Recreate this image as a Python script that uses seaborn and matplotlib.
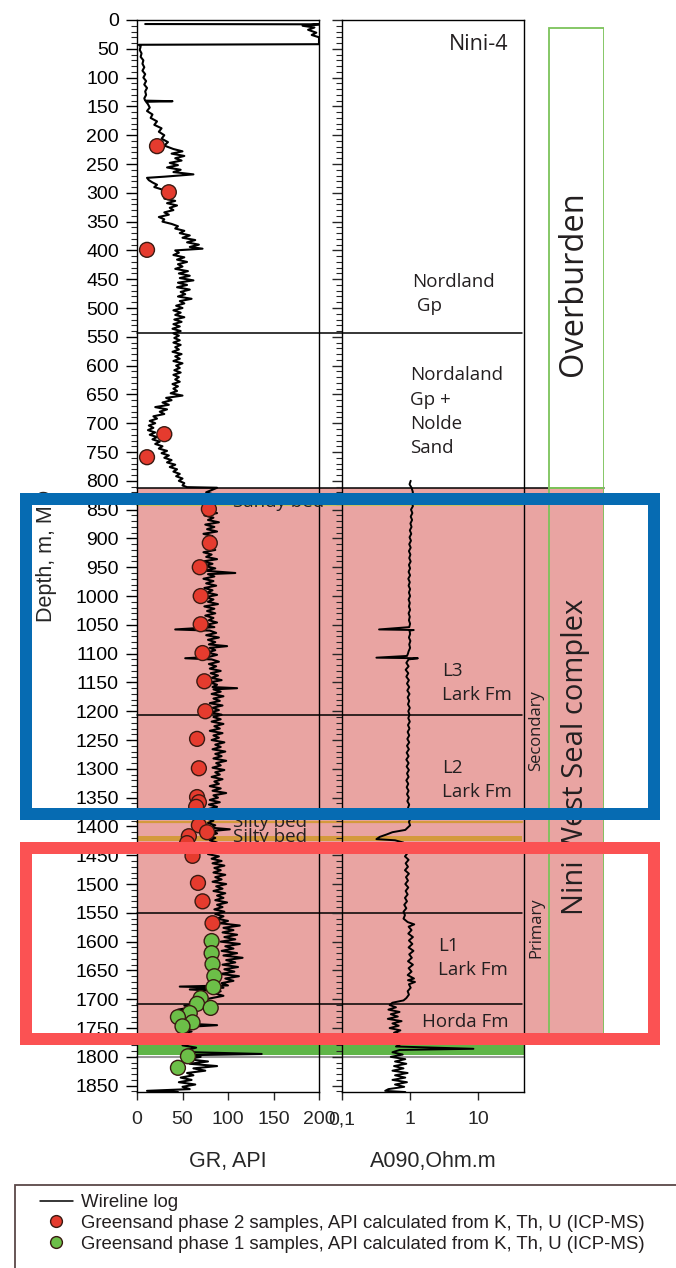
import numpy as np
import pandas as pd
import seaborn as sns
import matplotlib
matplotlib.use("Agg")
import matplotlib.pyplot as plt
import matplotlib.transforms as mtransforms
from matplotlib.patches import Rectangle
from matplotlib.lines import Line2D

# ---------------- DATA ----------------
# Gamma-ray wireline log (depth m MD, GR API)
gr_depth = [7, 7.5, 10, 13, 17, 22, 26, 30, 42, 43, 46, 52, 58, 64, 70, 76, 82, 88, 94, 100, 106, 112, 118, 124, 130, 136, 140, 141, 142,
            146, 152, 158, 164, 170, 176, 182, 188, 194, 200, 206, 212, 218, 224, 228, 232, 236, 240, 244, 248, 252, 256, 260, 264, 268, 272, 274,
            278, 282, 286, 290, 294, 298, 302, 306, 310, 314, 318, 322, 326, 330, 334, 338, 342, 346, 350,
            354, 358, 362, 366, 370, 374, 378, 382, 386, 390, 394, 397, 400,
            404, 408, 412, 416, 420, 424, 428, 432, 436, 440, 444, 448, 452, 456, 460, 464, 468, 472, 476, 480, 484, 488, 492, 496, 500,
            504, 508, 512, 516, 520, 524, 528, 532, 536, 540, 544, 548,
            552, 556, 560, 564, 568, 572, 576, 580, 584, 588, 592, 596, 600, 604, 608, 612, 616, 620, 624, 628, 632, 636, 640, 644, 648, 652, 656,
            660, 664, 668, 672, 676, 680, 684, 688, 692, 696, 700, 704, 708, 712,
            716, 720, 724, 728, 732, 736, 740, 744, 748, 752, 756,
            760, 764, 768, 772, 776, 780, 784, 788, 792, 796, 800, 804, 808, 811, 812,
            816, 820, 824, 828, 832, 836, 840, 844, 848,
            852, 856, 860, 864, 868, 872, 876, 880, 884, 888, 892, 896, 900, 904, 908, 912, 916, 920, 924, 928, 932, 936, 940, 944, 948, 952, 956, 960, 962,
            966, 970, 974, 978, 982, 986, 990, 994, 998, 1002, 1006, 1010, 1014, 1018, 1022, 1026, 1030, 1034, 1038, 1042, 1046, 1050, 1054, 1058, 1060,
            1064, 1068, 1072, 1076, 1080, 1084, 1087, 1090, 1094, 1098, 1102, 1106, 1108, 1110, 1114, 1118, 1122, 1126, 1130, 1134, 1138, 1142, 1146, 1150,
            1154, 1158, 1160, 1162,
            1166, 1170, 1174, 1178, 1182, 1186, 1190, 1194, 1198, 1202, 1206, 1210, 1214, 1218, 1222, 1226, 1230, 1234, 1238, 1242, 1246, 1250, 1254, 1258,
            1262, 1266, 1270, 1274, 1278, 1282, 1286, 1290, 1294, 1298, 1302, 1306, 1310, 1314, 1318, 1322, 1326, 1330, 1334, 1338, 1342, 1346, 1350, 1354,
            1358, 1362, 1366, 1370, 1374, 1378, 1382, 1386, 1390, 1394, 1398, 1402, 1405, 1408, 1412, 1416, 1420,
            1424, 1428, 1432, 1436, 1440, 1444, 1448, 1452, 1456, 1460, 1464, 1468, 1472, 1476, 1480, 1484, 1488, 1492, 1496, 1500, 1504, 1508, 1512, 1516,
            1520, 1524, 1528, 1532, 1536, 1540, 1544, 1548, 1552,
            1556, 1560, 1564, 1568, 1572, 1576, 1580, 1584, 1588, 1592, 1596, 1600, 1604, 1608, 1612, 1616, 1620, 1624, 1628, 1632, 1636, 1640, 1644, 1648,
            1652, 1656, 1660, 1664, 1668, 1672, 1676, 1678, 1680, 1683, 1686, 1690, 1694, 1698,
            1702, 1705, 1708, 1711,
            1714, 1718, 1722, 1726, 1730, 1734, 1738, 1742, 1745, 1748, 1752, 1756, 1760, 1764, 1766, 1768, 1772, 1776, 1780, 1784, 1788, 1792, 1795, 1797,
            1800, 1804, 1808, 1812, 1816, 1820, 1824, 1828,
            1832, 1836, 1840, 1844, 1848, 1852, 1856, 1859, 1861]
gr_value = [9, 200, 182, 195, 188, 197, 192, 200, 200, 2, 4, 3, 5, 4, 7, 6, 8, 6, 9, 7, 10, 8, 11, 9, 10, 8, 9, 39, 10,
            12, 14, 11, 17, 15, 22, 19, 27, 24, 30, 27, 34, 30, 40, 50, 38, 52, 42, 49, 36, 45, 33, 48, 40, 62, 30, 11,
            13, 17, 22, 19, 27, 30, 35, 40, 30, 42, 33, 44, 36, 40, 30, 35, 24, 30, 28,
            38, 45, 42, 52, 47, 58, 50, 64, 55, 68, 58, 72, 42,
            46, 40, 52, 44, 55, 45, 50, 42, 56, 46, 58, 47, 62, 45, 55, 44, 58, 48, 53, 45, 60, 47, 52, 43, 50,
            40, 48, 42, 52, 41, 49, 40, 47, 39, 48, 40, 46,
            41, 47, 40, 48, 42, 46, 39, 49, 42, 47, 40, 50, 43, 47, 41, 48, 40, 46, 42, 47, 39, 45, 40, 44, 37, 50, 32,
            38, 28, 35, 20, 33, 25, 30, 18, 22, 14, 20, 13, 18, 12,
            20, 14, 22, 17, 25, 20, 28, 24, 33, 27, 35,
            30, 38, 33, 42, 36, 44, 40, 47, 43, 50, 46, 52, 50, 55, 88,
            82, 76, 85, 80, 88, 78, 84, 77, 86,
            76, 88, 74, 84, 78, 90, 75, 85, 77, 88, 73, 83, 76, 87, 74, 84, 78, 86, 73, 82, 76, 88, 72, 83, 75, 86, 74, 108, 78,
            85, 73, 84, 76, 87, 74, 83, 77, 88, 75, 84, 78, 89, 74, 85, 77, 86, 75, 84, 79, 88, 76, 85, 42, 80,
            87, 76, 90, 78, 86, 79, 99, 80, 86, 77, 88, 78, 53, 82, 90, 79, 87, 80, 92, 81, 89, 82, 93, 80,
            88, 83, 110, 84,
            92, 82, 95, 84, 91, 80, 94, 83, 90, 81, 93, 84, 92, 82, 95, 85, 91, 80, 94, 84, 90, 82, 96, 86,
            92, 83, 97, 86, 93, 84, 98, 87, 92, 83, 96, 86, 91, 82, 94, 85, 90, 80, 92, 83, 98, 84, 89, 80,
            91, 79, 88, 78, 86, 77, 85, 76, 84, 78, 86, 80, 102, 82, 88, 79, 86,
            80, 88, 79, 90, 81, 87, 78, 90, 82, 93, 83, 96, 85, 92, 84, 97, 86, 93, 83, 98, 87, 94, 84, 97,
            88, 95, 86, 99, 88, 94, 85, 96, 86,
            95, 88, 100, 91, 113, 95, 106, 94, 110, 96, 108, 92, 113, 97, 106, 93, 110, 95, 116, 98, 108, 94, 111, 96,
            107, 92, 112, 97, 106, 93, 100, 47, 95, 58, 92, 86, 95, 82,
            70, 58, 75, 52,
            60, 45, 62, 48, 58, 42, 66, 50, 88, 55, 45, 60, 48, 55, 159, 60, 52, 62, 50, 65, 55, 62, 137, 60,
            70, 55, 78, 58, 88, 62, 75, 55,
            62, 48, 60, 46, 64, 50, 58, 11, 45]

# Resistivity log A090 (depth m MD, Ohm.m)
res_depth = [800, 806, 812, 820, 826, 832, 838, 844, 850, 856, 862, 868, 874, 880, 886, 892, 898, 904, 910, 916, 922, 928, 934, 940, 946, 952,
             958, 964, 970, 976, 982, 988, 994, 1000, 1006, 1012, 1018, 1024, 1030, 1036, 1042, 1048, 1054, 1058, 1059, 1060, 1066, 1072, 1078,
             1084, 1090, 1096, 1100, 1104, 1107, 1108, 1110, 1116, 1122, 1128, 1134, 1140, 1146, 1152, 1158, 1164, 1170, 1176, 1182, 1188, 1194,
             1200, 1206, 1212, 1218, 1224, 1230, 1236, 1242, 1248, 1254, 1260, 1266, 1272, 1278, 1284, 1290, 1296, 1302, 1308, 1314, 1320, 1326,
             1332, 1338, 1344, 1350, 1356, 1362, 1368, 1374, 1380, 1386, 1392, 1398, 1402, 1406, 1410, 1414, 1418, 1422, 1424, 1428, 1432, 1436,
             1440, 1446, 1452, 1458, 1464, 1470, 1476, 1482, 1488, 1494, 1500, 1506, 1512, 1518, 1524, 1530, 1536, 1542, 1548, 1554, 1560, 1566,
             1570, 1574, 1580, 1586, 1592, 1598, 1604, 1610, 1616, 1622, 1628, 1634, 1640, 1646, 1652, 1658, 1664, 1667, 1670, 1674, 1680, 1686,
             1692, 1698, 1702, 1706, 1710, 1714, 1718, 1722, 1726, 1730, 1734, 1738, 1742, 1746, 1750, 1754, 1758, 1762, 1766, 1770, 1774, 1778,
             1782, 1786, 1788, 1792, 1796, 1800, 1804, 1808, 1812, 1816, 1820, 1824, 1828, 1832, 1836, 1840, 1844, 1848, 1852, 1856, 1859, 1861]
res_value = [1.02, 0.98, 1.05, 1.10, 1.05, 1.12, 1.06, 1.10, 1.03, 1.08, 1.02, 1.07, 1.01, 1.05, 0.99, 1.04, 0.98, 1.03, 0.97, 1.02, 0.96, 1.01,
             0.97, 1.02, 0.96, 1.00, 0.95, 1.00, 0.94, 0.99, 0.95, 1.00, 0.96, 1.00, 0.95, 0.99, 0.96, 1.00, 0.95, 0.99, 0.96, 1.00, 0.97, 0.35,
             1.13, 0.98, 1.00, 0.96, 1.01, 0.97, 1.00, 0.95, 0.93, 0.90, 0.32, 1.30, 0.95, 0.88, 0.95, 0.86, 0.94, 0.88, 0.96, 0.90, 0.97, 0.91,
             0.98, 0.92, 0.97, 0.93, 0.99, 0.94, 0.98, 0.94, 0.99, 0.93, 0.98, 0.92, 0.97, 0.91, 0.97, 0.90, 0.96, 0.89, 0.95, 0.88, 0.95, 0.89,
             0.96, 0.90, 0.95, 0.88, 0.94, 0.89, 0.95, 0.90, 0.96, 0.91, 0.97, 0.93, 0.99, 0.95, 1.02, 0.96, 1.00, 0.92, 0.85, 0.55, 0.45, 0.36,
             0.32, 0.60, 0.80, 0.72, 0.86, 0.80, 0.92, 0.84, 0.95, 0.86, 0.93, 0.84, 0.96, 0.87, 0.93, 0.85, 0.94, 0.86, 0.92, 0.84, 0.90, 0.82,
             0.88, 0.80, 0.84, 0.80, 0.92, 1.15, 0.95, 1.05, 0.94, 1.10, 0.96, 1.08, 0.95, 1.12, 0.97, 1.06, 0.93, 1.10, 0.95, 1.05, 0.92, 1.14,
             0.93, 1.18, 0.96, 1.02, 0.92, 0.96, 0.88, 0.80, 0.55, 0.50, 0.62, 0.48, 0.70, 0.52, 0.66, 0.47, 0.75, 0.55, 0.68, 0.50, 0.72, 0.58,
             0.85, 0.65, 0.78, 0.60, 0.72, 0.62, 8.5, 0.70, 0.55, 0.78, 0.52, 0.85, 0.60, 0.88, 0.58, 0.80, 0.55, 0.92, 0.60, 0.85, 0.55, 0.90,
             0.60, 0.82, 0.48, 0.43, 0.85]

# Greensand samples, API calculated from K, Th, U (ICP-MS)
ph2_depth = [219, 299, 399, 719, 759, 849, 908, 950, 1000, 1049, 1099, 1148, 1200, 1248, 1299, 1349, 1358, 1366, 1398, 1410, 1417, 1429,
             1451, 1498, 1530, 1568]
ph2_gr = [22, 35, 11, 30, 11, 79, 80, 69, 70, 70, 72, 74, 75, 66, 68, 66, 68, 65, 68, 77, 57, 55, 61, 67, 72, 83]
ph1_depth = [1599, 1620, 1639, 1660, 1679, 1698, 1708, 1715, 1724, 1731, 1740, 1747, 1799, 1819]
ph1_gr = [82, 82, 83, 85, 84, 70, 66, 81, 58, 45, 61, 50, 56, 45]

# Formation tops, zones and beds (depth m MD)
top_depths = [543, 812, 1207, 1550, 1708]
seal_top, seal_base, green_top, green_base, grey_line = 812, 1771, 1780, 1797, 1800
silty_line, silty_band = 1392, (1417, 1425)
sandy_line = 842
overburden_top = 14

gr_ticks = [0, 50, 100, 150, 200]
res_ticks = [0.1, 1, 10]
res_ticklabels = ["0,1", "1", "10"]
depth_ticks = list(range(0, 1851, 50))

# ---------------- FIGURE ----------------
sns.set_theme(style="white")
plt.rcParams["font.family"] = ["Liberation Sans", "DejaVu Sans"]
SANS2 = ["Open Sans", "DejaVu Sans"]
TXT = "#231f20"

W, H = 676, 1268
fig = plt.figure(figsize=(W / 100, H / 100), dpi=100)
fig.patch.set_facecolor("white")


def fx(px):
    return px / W


def fy(py):
    return 1 - py / H


top_px, bot_px = 20, 1092
ax_gr = fig.add_axes([fx(137), fy(bot_px), 182 / W, (bot_px - top_px) / H])
ax_rs = fig.add_axes([fx(342), fy(bot_px), 182 / W, (bot_px - top_px) / H], sharey=ax_gr)
ax_st = fig.add_axes([fx(524), fy(bot_px), 80 / W, (bot_px - top_px) / H], sharey=ax_gr)
for a in (ax_gr, ax_rs):
    a.set_facecolor("none")
    for s in a.spines.values():
        s.set_color("black")
        s.set_linewidth(1.0)
ax_st.axis("off")
ax_st.set_xlim(0, 1)

ax_gr.set_ylim(1861, 0)
ax_gr.set_xlim(0, 200)
ax_rs.set_xscale("log")
ax_rs.set_xlim(0.1, 47)

# Background zones (figure x, data y)
bt = mtransforms.blended_transform_factory(fig.transFigure, ax_gr.transData)
PINK = "#e9a4a2"
fig.add_artist(Rectangle((fx(137), seal_top), fx(604) - fx(137), seal_base - seal_top, transform=bt,
                         facecolor=PINK, edgecolor="none", zorder=-3))
fig.add_artist(Rectangle((fx(137), seal_base), fx(524) - fx(137), green_top - seal_base, transform=bt,
                         facecolor=PINK, edgecolor="none", zorder=-3))
fig.add_artist(Rectangle((fx(137), green_top), fx(524) - fx(137), green_base - green_top, transform=bt,
                         facecolor="#5fb548", edgecolor="none", zorder=-3))
fig.add_artist(Line2D([fx(137), fx(524)], [grey_line, grey_line], transform=bt, color="#9a9a9a", lw=1.5, zorder=-2))
fig.add_artist(Line2D([fx(137), fx(522)], [silty_line, silty_line], transform=bt, color="#d49a3c", lw=1.6, zorder=-2))
fig.add_artist(Rectangle((fx(137), silty_band[0]), fx(522) - fx(137), silty_band[1] - silty_band[0], transform=bt,
                         facecolor="#d49a3c", edgecolor="none", zorder=-2))
fig.add_artist(Line2D([fx(137), fx(522)], [sandy_line, sandy_line], transform=bt, color="#c8c060", lw=1.5, zorder=-2))

# Formation tops
top_right = [522, 604, 522, 522, 522]
for d, r in zip(top_depths, top_right):
    fig.add_artist(Line2D([fx(137), fx(r)], [d, d], transform=bt, color="black", lw=1.1, zorder=-1))

# Strip boxes
GRN = "#7cc35a"
ax_st.add_patch(Rectangle((25 / 80, overburden_top), 55 / 80, seal_top - overburden_top, facecolor="none",
                          edgecolor=GRN, lw=1.3))
ax_st.add_patch(Rectangle((25 / 80, seal_top), 55 / 80, seal_base - seal_top, facecolor="none", edgecolor=GRN, lw=1.3))

# Logs
sns.lineplot(x=gr_value, y=gr_depth, sort=False, estimator=None, orient="y", color="black", lw=1.5, ax=ax_gr)
sns.lineplot(x=res_value, y=res_depth, sort=False, estimator=None, orient="y", color="black", lw=1.4, ax=ax_rs)

samples = pd.DataFrame({
    "depth": ph2_depth + ph1_depth,
    "gr": ph2_gr + ph1_gr,
    "phase": ["Phase 2"] * len(ph2_depth) + ["Phase 1"] * len(ph1_depth),
})
RED, GREEN, EDGE = "#e53b2e", "#6cbf48", "#3a1a12"
sns.scatterplot(data=samples, x="gr", y="depth", hue="phase", palette={"Phase 2": RED, "Phase 1": GREEN},
                s=115, edgecolor=EDGE, linewidth=1.0, legend=False, ax=ax_gr, zorder=5)

# Ticks
ax_gr.set_yticks(depth_ticks)
ax_gr.set_yticks(range(0, 1861, 10), minor=True)
ax_gr.set_xticks(gr_ticks)
ax_gr.tick_params(axis="y", which="major", direction="out", length=8, width=1, labelsize=14, pad=5,
                  left=True, colors="black")
ax_gr.tick_params(axis="y", which="minor", direction="out", length=4, width=0.8, left=True)
ax_gr.tick_params(axis="x", which="major", direction="out", length=6, width=1, labelsize=14, pad=8, bottom=True)
ax_rs.set_xticks(res_ticks)
ax_rs.set_xticklabels(res_ticklabels)
ax_rs.xaxis.set_minor_locator(matplotlib.ticker.NullLocator())
ax_rs.tick_params(axis="x", which="major", direction="out", length=6, width=1, labelsize=14, pad=8, bottom=True)
ax_rs.tick_params(axis="y", which="major", direction="out", length=7, width=1, left=True, labelleft=False)
ax_rs.tick_params(axis="y", which="minor", direction="out", length=4, width=0.8, left=True)
ax_rs.set_ylabel("")

ax_gr.set_xlabel("GR, API", fontsize=15.5, labelpad=16)
ax_rs.set_xlabel("A090,Ohm.m", fontsize=15.5, labelpad=16)
ax_gr.set_ylabel("Depth, m, MD", fontsize=15.5, labelpad=13)

# Track labels
yt = ax_rs.get_yaxis_transform()
tk = dict(family=SANS2, color=TXT, fontsize=13.5, linespacing=1.45, transform=yt, va="center", ha="left")
ax_rs.text(0.915, 43, "Nini-4", family=SANS2, color=TXT, fontsize=15.5, transform=yt, va="center", ha="right")
ax_rs.text(0.385, 476, "Nordland\n Gp", **tk)
ax_rs.text(0.374, 680, "Nordaland\nGp +\nNolde\nSand", **tk)
ax_rs.text(0.55, 1151, "L3\nLark Fm", **tk)
ax_rs.text(0.55, 1319, "L2\nLark Fm", **tk)
ax_rs.text(0.527, 1628, "L1\nLark Fm", **tk)
ax_rs.text(0.44, 1740, "Horda Fm", **tk)

yg = ax_gr.get_yaxis_transform()
bed = dict(family=SANS2, color=TXT, fontsize=13.5, transform=yg, va="center", ha="left", clip_on=False)
ax_gr.text(0.527, 836, "Sandy bed", **bed)
ax_gr.text(0.527, 1393, "Silty bed", **bed)
ax_gr.text(0.527, 1419, "Silty bed", **bed)

ax_st.text(0.15, 1233, "Secondary", rotation=90, family=SANS2, color=TXT, fontsize=12, ha="center", va="center")
ax_st.text(0.15, 1575, "Primary", rotation=90, family=SANS2, color=TXT, fontsize=12, ha="center", va="center")
ax_st.text(0.64, 1280, "Nini West Seal complex", rotation=90, family=SANS2, color=TXT, fontsize=21,
           ha="center", va="center")
ax_st.text(0.62, 457, "Overburden", rotation=90, family=SANS2, color=TXT, fontsize=23.5, ha="center", va="center")

# Highlight boxes
lw_box = 12 * 72 / 100
fig.add_artist(Rectangle((fx(26), fy(813.5)), fx(654) - fx(26), (813.5 - 499) / H, transform=fig.transFigure,
                         facecolor="none", edgecolor="#066bb2", lw=lw_box, zorder=20))
fig.add_artist(Rectangle((fx(26), fy(1039)), fx(654) - fx(26), (1039 - 847.5) / H, transform=fig.transFigure,
                         facecolor="none", edgecolor="#fb5253", lw=lw_box, zorder=20))

# Legend
fig.add_artist(Rectangle((fx(15), -0.05), 1.1 - fx(15), fy(1185) + 0.05, transform=fig.transFigure,
                         facecolor="white", edgecolor="#5a4848", lw=1.3, zorder=1))
handles = [
    Line2D([], [], color="black", lw=1.1),
    Line2D([], [], marker="o", ls="none", mfc=RED, mec=EDGE, ms=8.5),
    Line2D([], [], marker="o", ls="none", mfc=GREEN, mec=EDGE, ms=8.5),
]
labels = ["Wireline log",
          "Greensand phase 2 samples, API calculated from K, Th, U (ICP-MS)",
          "Greensand phase 1 samples, API calculated from K, Th, U (ICP-MS)"]
leg = fig.legend(handles, labels, loc="upper left", bbox_to_anchor=(fx(40), fy(1194)), frameon=False,
                 fontsize=13.4, handlelength=1.75, handletextpad=0.45, labelspacing=0.2, borderpad=0,
                 borderaxespad=0, numpoints=1)
leg.set_zorder(2)
for t in leg.get_texts():
    t.set_color(TXT)

fig.savefig("out.png", dpi=100, facecolor="white")
